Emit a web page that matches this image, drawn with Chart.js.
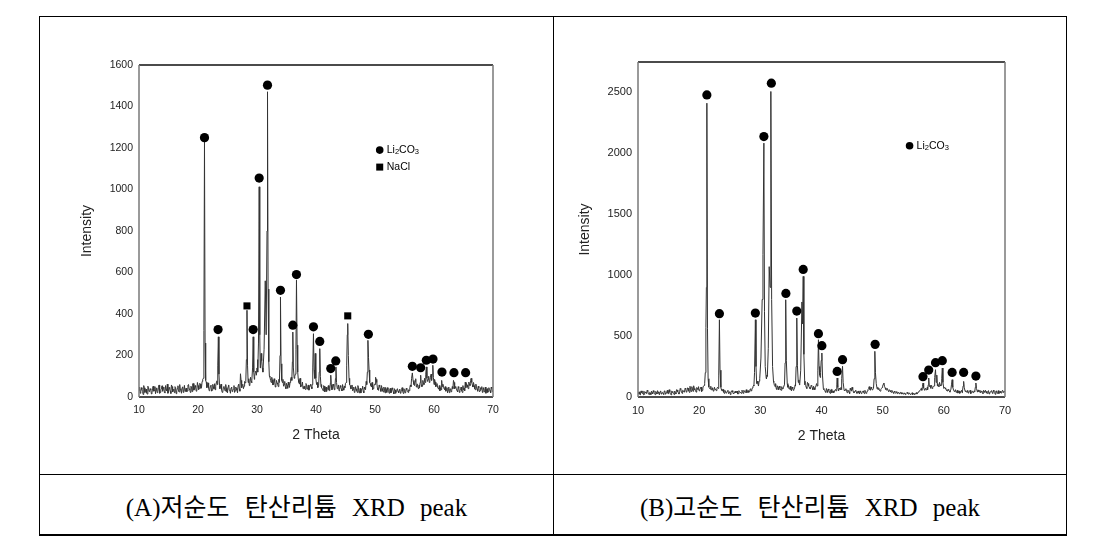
<!DOCTYPE html>
<html>
<head>
<meta charset="utf-8">
<script src="https://cdn.jsdelivr.net/npm/chart.js@4.4.1/dist/chart.umd.min.js"></script>
<style>
body { margin: 0; background: #fff; width: 1119px; height: 546px; position: relative; overflow: hidden; }
.rule { position: absolute; background: #000; }
canvas { position: absolute; }
.caption {
    position: absolute; top: 475px; height: 59px;
    display: flex; align-items: center; justify-content: center;
    font-family: "Liberation Serif", "Noto Sans CJK KR", serif;
    font-size: 25px; color: #000; word-spacing: 9px; white-space: pre;
}
</style>
</head>
<body>
<!-- table lines -->
<div class="rule" style="left:39px;top:16px;width:1028px;height:1px"></div>
<div class="rule" style="left:39px;top:534px;width:1028px;height:2px"></div>
<div class="rule" style="left:39px;top:16px;width:1px;height:520px"></div>
<div class="rule" style="left:1066px;top:16px;width:1px;height:520px"></div>
<div class="rule" style="left:553px;top:16px;width:1px;height:520px"></div>
<div class="rule" style="left:39px;top:474px;width:1028px;height:1px"></div>

<canvas id="chartA" width="513" height="457" style="left:40px;top:17px"></canvas>
<canvas id="chartB" width="512" height="457" style="left:554px;top:17px"></canvas>

<div class="caption" style="left:40px;width:513px">(A)저순도 탄산리튬 XRD peak</div>
<div class="caption" style="left:554px;width:512px">(B)고순도 탄산리튬 XRD peak</div>

<script>
// background readings: one set at 10.0, 10.2 ... 70.0 and one in between at 10.1, 10.3 ... 69.9
var SCAN_START = 10;
var SCAN_MID_START = 10.1;
var SCAN_STEP = 0.2;

// (A) low purity sample - background counts
var backgroundA = [
    32, 18, 45, 27, 55, 22, 38, 14, 47, 29,
    35, 20, 52, 31, 16, 44, 26, 58, 23, 39,
    28, 48, 19, 36, 62, 25, 41, 17, 50, 33,
    21, 46, 30, 54, 24, 37, 18, 49, 34, 27,
    43, 29, 60, 35, 52, 26, 65, 38, 47, 31,
    55, 40, 62, 48, 85, 300, 260, 72, 50, 44,
    38, 57, 33, 49, 64, 52, 78, 290, 60, 46,
    35, 24, 51, 29, 42, 20, 58, 31, 44, 26,
    37, 22, 48, 33, 56, 39, 112, 45, 61, 52,
    68, 180, 150, 88, 62, 79, 140, 120, 98, 125,
    140, 260, 300, 150, 175, 120, 230, 560, 300, 1471,
    170, 95, 70, 82, 60, 75, 55, 68, 50, 70,
    480, 80, 85, 60, 48, 66, 42, 58, 70, 95,
    170, 140, 100, 230, 250, 85, 62, 48, 57, 40,
    52, 36, 60, 45, 33, 55, 48, 140, 130, 210,
    90, 70, 52, 120, 100, 45, 30, 52, 38, 27,
    46, 33, 70, 60, 40, 55, 45, 145, 40, 58,
    36, 47, 29, 44, 52, 66, 150, 354, 90, 55,
    42, 30, 48, 25, 39, 22, 44, 31, 19, 40,
    28, 47, 35, 60, 273, 130, 65, 48, 36, 52,
    60, 85, 45, 32, 50, 27, 41, 24, 38, 46,
    22, 35, 18, 42, 29, 37, 15, 33, 26, 40,
    20, 38, 24, 45, 17, 32, 28, 36, 22, 30,
    58, 90, 116, 60, 75, 48, 62, 40, 70, 60,
    55, 68, 90, 110, 90, 85, 70, 95, 80, 95,
    60, 72, 55, 48, 38, 30, 35, 50, 52, 36,
    28, 45, 33, 21, 40, 30, 40, 70, 50, 38,
    25, 42, 30, 48, 22, 35, 30, 45, 58, 40,
    62, 80, 70, 48, 55, 35, 50, 28, 44, 30,
    38, 22, 45, 31, 18, 40, 27, 35, 20, 42,
    30
];
var backgroundMidA = [
    48, 25, 36, 12, 44, 30, 20, 52, 26, 40,
    15, 42, 28, 50, 33, 21, 47, 18, 35, 54,
    40, 22, 55, 30, 18, 46, 28, 58, 24, 38,
    50, 16, 42, 27, 60, 32, 45, 22, 56, 38,
    26, 58, 40, 22, 48, 64, 33, 55, 28, 70,
    36, 66, 42, 75, 90, 1000, 80, 45, 68, 30,
    52, 28, 61, 40, 35, 70, 95, 120, 40, 62,
    22, 46, 38, 60, 25, 50, 34, 18, 48, 35,
    55, 30, 42, 20, 62, 28, 80, 58, 40, 75,
    75, 418, 70, 55, 95, 68, 200, 100, 120, 105,
    180, 500, 200, 210, 140, 300, 400, 600, 900, 300,
    100, 80, 95, 58, 88, 48, 80, 62, 85, 200,
    300, 70, 52, 75, 40, 55, 72, 46, 88, 80,
    200, 90, 110, 400, 120, 70, 90, 55, 72, 50,
    40, 65, 38, 58, 45, 62, 40, 200, 110, 150,
    60, 45, 100, 150, 60, 38, 55, 25, 48, 40,
    55, 30, 105, 35, 62, 35, 90, 70, 45, 30,
    55, 38, 60, 33, 45, 70, 300, 150, 60, 40,
    58, 35, 22, 50, 30, 55, 20, 42, 33, 52,
    20, 40, 75, 120, 190, 70, 55, 70, 40, 62,
    95, 70, 35, 58, 40, 55, 30, 48, 20, 36,
    45, 28, 38, 20, 44, 25, 40, 18, 35, 28,
    32, 18, 36, 28, 40, 20, 42, 25, 35, 45,
    50, 110, 80, 55, 88, 60, 42, 58, 90, 55,
    80, 60, 70, 145, 75, 100, 78, 110, 110, 95,
    85, 50, 65, 42, 55, 45, 80, 62, 40, 50,
    35, 20, 48, 36, 25, 50, 80, 40, 45, 30,
    50, 22, 40, 30, 55, 42, 72, 65, 48, 72,
    55, 90, 58, 70, 40, 62, 38, 52, 25, 45,
    50, 32, 25, 48, 35, 22, 45, 30, 48, 26
];

// (A) peak profiles [2theta, counts], these replace the background inside their range
var peaksA = [
    [[20.9, 90], [21.0, 320], [21.1, 1235], [21.2, 260], [21.3, 80]],
    [[23.25, 60], [23.35, 150], [23.45, 290], [23.55, 110], [23.65, 55]],
    [[28.1, 75], [28.2, 180], [28.3, 418], [28.4, 150], [28.5, 70]],
    [[29.15, 80], [29.25, 140], [29.35, 290], [29.45, 120], [29.55, 85]],
    [[30.15, 120], [30.25, 260], [30.37, 1013], [30.47, 300], [30.55, 140]],
    [[31.0, 120], [31.2, 230], [31.4, 560], [31.55, 300], [31.7, 800], [31.78, 1471], [31.88, 520], [32.0, 170], [32.1, 100]],
    [[33.8, 70], [33.9, 200], [33.98, 482], [34.08, 160], [34.2, 80]],
    [[35.9, 80], [36.0, 170], [36.07, 313], [36.17, 140], [36.3, 90]],
    [[36.5, 110], [36.6, 230], [36.69, 563], [36.8, 250], [36.9, 120]],
    [[39.35, 60], [39.45, 140], [39.57, 305], [39.67, 130], [39.77, 90], [39.87, 210], [39.97, 90], [40.1, 60]],
    [[40.45, 55], [40.55, 120], [40.64, 233], [40.74, 100], [40.85, 50]],
    [[42.35, 40], [42.45, 70], [42.5, 105], [42.6, 60], [42.7, 35]],
    [[43.2, 45], [43.3, 90], [43.38, 145], [43.48, 70], [43.6, 40]],
    [[45.1, 70], [45.2, 150], [45.3, 300], [45.38, 354], [45.48, 200], [45.6, 90], [45.7, 60]],
    [[48.6, 60], [48.7, 120], [48.8, 273], [48.9, 190], [49.0, 130], [49.1, 70]],
    [[56.1, 50], [56.2, 90], [56.33, 116], [56.45, 80], [56.6, 60]],
    [[57.55, 45], [57.65, 70], [57.74, 105], [57.84, 60], [57.95, 50]],
    [[58.5, 70], [58.6, 110], [58.7, 145], [58.8, 90], [58.9, 75]],
    [[59.6, 80], [59.7, 110], [59.8, 153], [59.9, 95], [60.0, 60]],
    [[61.2, 35], [61.3, 80], [61.4, 50]],
    [[63.2, 40], [63.3, 80], [63.4, 70], [63.5, 40]],
    [[65.2, 30], [65.3, 72], [65.4, 45]]
];

// (A) phase markers
var li2co3MarksA = [
    [21.1, 1250], [23.4, 325], [29.35, 325], [30.37, 1055], [31.78, 1503], [33.98, 514],
    [36.07, 346], [36.69, 590], [39.57, 338], [40.64, 268], [42.5, 137], [43.35, 174],
    [48.88, 302], [56.33, 148], [57.74, 141], [58.7, 177], [59.83, 183], [61.35, 120],
    [63.38, 117], [65.36, 117]
];
var naclMarksA = [[28.3, 439], [45.38, 391]];

// (B) high purity sample
var backgroundB = [
    25, 42, 18, 36, 50, 22, 39, 28, 46, 20,
    34, 48, 26, 41, 19, 37, 52, 30, 44, 24,
    38, 21, 47, 33, 55, 27, 40, 18, 45, 31,
    49, 26, 58, 35, 43, 62, 30, 51, 39, 66,
    44, 72, 38, 60, 85, 47, 70, 55, 78, 62,
    50, 68, 45, 74, 95, 200, 900, 150, 82, 65,
    58, 76, 49, 63, 52, 80, 180, 220, 66, 48,
    40, 55, 32, 47, 28, 44, 36, 52, 25, 41,
    33, 49, 27, 45, 38, 56, 30, 48, 42, 35,
    52, 44, 68, 58, 85, 200, 634, 110, 110, 130,
    320, 800, 1170, 2084, 250, 150, 400, 1070, 900, 2508,
    250, 120, 85, 70, 92, 60, 75, 55, 68, 80,
    280, 300, 110, 95, 70, 60, 82, 55, 75, 250,
    648, 120, 100, 220, 780, 990, 130, 95, 70, 110,
    80, 65, 90, 60, 75, 85, 110, 220, 250, 160,
    300, 180, 60, 45, 70, 38, 55, 30, 62, 42,
    35, 58, 50, 156, 50, 65, 80, 252, 120, 50,
    68, 35, 52, 28, 60, 80, 45, 38, 55, 30,
    48, 25, 42, 33, 50, 28, 45, 36, 60, 85,
    55, 70, 62, 150, 200, 110, 80, 60, 48, 70,
    90, 115, 75, 58, 66, 45, 52, 38, 47, 30,
    42, 35, 28, 40, 25, 36, 30, 22, 34, 27,
    38, 24, 31, 20, 35, 26, 18, 30, 24, 40,
    48, 62, 55, 115, 55, 72, 60, 100, 85, 95,
    95, 80, 90, 224, 180, 110, 85, 100, 150, 238,
    70, 75, 60, 48, 55, 40, 100, 80, 55, 50,
    38, 55, 42, 30, 48, 35, 90, 75, 52, 40,
    32, 48, 28, 45, 36, 50, 80, 70, 58, 42,
    35, 50, 28, 46, 55, 32, 48, 25, 40, 52,
    30, 45, 22, 50, 36, 28, 47, 33, 55, 38,
    42
];
var backgroundMidB = [
    40, 22, 50, 30, 18, 45, 33, 55, 24, 38,
    20, 36, 52, 28, 46, 25, 40, 18, 50, 35,
    28, 50, 22, 44, 30, 60, 25, 48, 36, 20,
    35, 60, 42, 24, 70, 38, 55, 45, 72, 40,
    75, 50, 88, 45, 66, 92, 58, 40, 70, 85,
    60, 82, 55, 90, 110, 570, 1500, 120, 70, 88,
    62, 48, 80, 58, 70, 70, 600, 100, 55, 62,
    30, 48, 38, 55, 35, 20, 50, 40, 33, 48,
    42, 25, 52, 36, 30, 45, 55, 38, 60, 46,
    38, 60, 50, 75, 95, 400, 200, 130, 90, 150,
    320, 800, 1500, 500, 200, 180, 400, 1000, 1800, 600,
    150, 95, 110, 62, 78, 90, 58, 85, 66, 98,
    500, 200, 80, 65, 88, 50, 70, 62, 100, 400,
    200, 140, 150, 500, 600, 500, 100, 80, 120, 90,
    70, 95, 75, 88, 60, 92, 90, 470, 180, 250,
    250, 70, 55, 38, 52, 66, 40, 58, 35, 50,
    48, 62, 100, 70, 72, 58, 200, 150, 55, 62,
    45, 58, 40, 72, 48, 62, 35, 50, 40, 45,
    35, 50, 28, 45, 38, 55, 30, 50, 70, 62,
    80, 58, 70, 300, 130, 65, 70, 52, 62, 78,
    105, 88, 62, 72, 50, 60, 42, 55, 36, 48,
    30, 45, 35, 28, 38, 24, 35, 28, 20, 33,
    28, 35, 22, 30, 20, 32, 25, 36, 30, 45,
    55, 70, 85, 75, 65, 58, 80, 156, 90, 85,
    70, 88, 160, 120, 90, 95, 120, 90, 200, 120,
    80, 65, 52, 62, 48, 58, 142, 70, 45, 60,
    45, 32, 50, 40, 55, 90, 100, 45, 40, 55,
    40, 55, 35, 50, 42, 80, 90, 40, 45, 55,
    42, 35, 55, 38, 45, 30, 52, 38, 48, 35,
    55, 38, 48, 30, 52, 40, 35, 48, 42, 50
];

var peaksB = [
    [[20.9, 110], [21.0, 200], [21.1, 570], [21.18, 900], [21.26, 2412], [21.36, 560], [21.46, 150], [21.56, 90]],
    [[23.1, 70], [23.2, 180], [23.31, 634], [23.41, 220], [23.55, 80]],
    [[28.95, 90], [29.05, 200], [29.19, 634], [29.29, 250], [29.4, 110]],
    [[29.9, 150], [30.1, 320], [30.3, 800], [30.43, 1170], [30.58, 2084], [30.68, 700], [30.8, 250], [30.95, 160]],
    [[31.15, 170], [31.3, 400], [31.45, 1070], [31.6, 900], [31.72, 2508], [31.85, 800], [32.0, 250], [32.15, 130]],
    [[33.95, 100], [34.05, 280], [34.15, 798], [34.25, 300], [34.4, 110]],
    [[35.75, 90], [35.85, 250], [35.96, 648], [36.06, 260], [36.2, 120]],
    [[36.45, 110], [36.6, 220], [36.8, 780], [36.9, 600], [37.01, 990], [37.12, 350], [37.25, 130]],
    [[39.3, 90], [39.4, 220], [39.5, 470], [39.6, 250], [39.7, 180]],
    [[39.85, 200], [39.95, 300], [40.06, 361], [40.16, 180], [40.3, 70]],
    [[42.4, 50], [42.5, 100], [42.56, 156], [42.66, 80], [42.8, 50]],
    [[43.25, 60], [43.35, 150], [43.44, 252], [43.54, 120], [43.7, 55]],
    [[48.5, 70], [48.6, 150], [48.72, 375], [48.82, 200], [48.95, 110], [49.1, 65]],
    [[56.4, 55], [56.5, 85], [56.6, 115], [56.7, 75], [56.85, 55]],
    [[57.35, 60], [57.45, 100], [57.53, 156], [57.63, 85], [57.75, 95], [57.85, 70]],
    [[58.4, 90], [58.5, 160], [58.64, 224], [58.74, 120], [58.85, 180], [58.95, 90]],
    [[59.55, 100], [59.65, 150], [59.75, 238], [59.85, 120], [60.0, 70]],
    [[61.15, 60], [61.25, 100], [61.36, 142], [61.46, 80], [61.6, 55]],
    [[63.05, 50], [63.15, 90], [63.24, 128], [63.34, 75], [63.5, 45]],
    [[65.05, 45], [65.15, 80], [65.24, 115], [65.34, 70], [65.5, 40]]
];

var li2co3MarksB = [
    [21.26, 2480], [23.31, 684], [29.19, 689], [30.58, 2138], [31.8, 2576], [34.18, 850],
    [35.96, 705], [37.01, 1047], [39.5, 520], [40.06, 421], [42.56, 210], [43.44, 306],
    [48.77, 432], [56.59, 167], [57.53, 221], [58.64, 282], [59.75, 298], [61.36, 202],
    [63.24, 202], [65.24, 172]
];

// tick labels
var thetaTicks = [10, 20, 30, 40, 50, 60, 70];
var countTicksA = [0, 200, 400, 600, 800, 1000, 1200, 1400, 1600];
var countTicksB = [0, 500, 1000, 1500, 2000, 2500];
var countMaxA = 1600;
var countMaxB = 2750;

var AXIS_FONT = '"Liberation Sans", Arial, sans-serif';

// merge background readings + peaks into one sorted scan
function buildScan(background, backgroundMid, peaks) {
    var pts = [];
    function inPeak(x) {
        return peaks.some(function (p) {
            return x >= p[0][0] && x <= p[p.length - 1][0];
        });
    }
    function addReadings(list, start) {
        list.forEach(function (v, i) {
            var x = Math.round((start + i * SCAN_STEP) * 10) / 10;
            if (!inPeak(x)) pts.push({x: x, y: v});
        });
    }
    addReadings(background, SCAN_START);
    addReadings(backgroundMid, SCAN_MID_START);
    peaks.forEach(function (p) {
        p.forEach(function (q) { pts.push({x: q[0], y: q[1]}); });
    });
    pts.sort(function (a, b) { return a.x - b.x; });
    return pts;
}

function toPoints(list) {
    return list.map(function (p) { return {x: p[0], y: p[1]}; });
}

// draws Li2CO3 etc with the digits as subscripts
function drawFormula(ctx, text, x, y, size) {
    for (var i = 0; i < text.length; i++) {
        var ch = text[i];
        var sub = /[0-9]/.test(ch);
        ctx.font = (sub ? size * 0.72 : size) + 'px ' + AXIS_FONT;
        ctx.fillText(ch, x, sub ? y + size * 0.22 : y);
        x += ctx.measureText(ch).width;
    }
}

// box round the plot: top/bottom dark, sides grey like the original
var plotFrame = {
    id: 'plotFrame',
    afterDraw: function (chart) {
        var a = chart.chartArea, ctx = chart.ctx;
        ctx.save();
        ctx.lineWidth = 1.5;
        ctx.strokeStyle = '#111';
        ctx.beginPath();
        ctx.moveTo(a.left, a.top); ctx.lineTo(a.right, a.top);
        ctx.moveTo(a.left, a.bottom); ctx.lineTo(a.right, a.bottom);
        ctx.stroke();
        ctx.strokeStyle = '#7a7a7a';
        ctx.beginPath();
        ctx.moveTo(a.left, a.top); ctx.lineTo(a.left, a.bottom);
        ctx.moveTo(a.right, a.top); ctx.lineTo(a.right, a.bottom);
        ctx.stroke();
        ctx.restore();
    }
};

// legend sitting inside the plot, anchored in data units
var insetLegend = {
    id: 'insetLegend',
    afterDatasetsDraw: function (chart, args, opts) {
        var ctx = chart.ctx;
        var xs = chart.scales.x, ys = chart.scales.y;
        ctx.save();
        ctx.fillStyle = '#000';
        ctx.textBaseline = 'middle';
        (opts.items || []).forEach(function (item) {
            var px = xs.getPixelForValue(item.at[0]);
            var py = ys.getPixelForValue(item.at[1]);
            ctx.beginPath();
            if (item.shape === 'rect') {
                ctx.rect(px - 3.5, py - 3.5, 7, 7);
            } else {
                ctx.arc(px, py, 3.8, 0, Math.PI * 2);
            }
            ctx.fill();
            drawFormula(ctx, item.label, px + 7, py, 10.5);
        });
        ctx.restore();
    }
};

function fixedTicks(values) {
    return function (scale) {
        scale.ticks = values.map(function (v) { return {value: v}; });
    };
}

function makeXrdChart(canvasId, cfg) {
    var datasets = [{
        label: 'scan',
        data: cfg.scan,
        showLine: true,
        borderColor: '#333',
        borderWidth: 1,
        pointRadius: 0,
        tension: 0,
        order: 2
    }, {
        label: 'Li2CO3',
        data: cfg.circles,
        pointStyle: 'circle',
        pointRadius: 4.6,
        backgroundColor: '#000',
        borderWidth: 0,
        order: 1
    }];
    if (cfg.squares) {
        datasets.push({
            label: 'NaCl',
            data: cfg.squares,
            pointStyle: 'rect',
            pointRadius: 5,
            backgroundColor: '#000',
            borderWidth: 0,
            order: 1
        });
    }

    var tickFont = {family: AXIS_FONT, size: cfg.tickSize};
    var titleFont = {family: AXIS_FONT, size: 14};
    var plain = function (v) { return String(v); };

    return new Chart(document.getElementById(canvasId), {
        type: 'scatter',
        data: {datasets: datasets},
        plugins: [plotFrame, insetLegend],
        options: {
            responsive: false,
            animation: false,
            devicePixelRatio: 1,
            layout: {padding: cfg.padding},
            plugins: {
                legend: {display: false},
                tooltip: {enabled: false},
                insetLegend: {items: cfg.legend}
            },
            scales: {
                x: {
                    type: 'linear',
                    min: thetaTicks[0],
                    max: thetaTicks[thetaTicks.length - 1],
                    grid: {display: false, drawTicks: false},
                    border: {display: false},
                    afterBuildTicks: fixedTicks(thetaTicks),
                    ticks: {padding: 7, color: '#222', font: tickFont, callback: plain},
                    title: {display: true, text: '2 Theta', color: '#222', font: titleFont},
                    afterFit: function (s) { s.height = cfg.xHeight; }
                },
                y: {
                    min: 0,
                    max: cfg.yMax,
                    grid: {display: false, drawTicks: false},
                    border: {display: false},
                    afterBuildTicks: fixedTicks(cfg.yTicks),
                    ticks: {padding: 6, color: '#222', font: tickFont, callback: plain},
                    title: {display: true, text: 'Intensity', color: '#222', font: titleFont},
                    afterFit: function (s) { s.width = cfg.yWidth; }
                }
            }
        }
    });
}

makeXrdChart('chartA', {
    scan: buildScan(backgroundA, backgroundMidA, peaksA),
    circles: toPoints(li2co3MarksA),
    squares: toPoints(naclMarksA),
    yTicks: countTicksA,
    yMax: countMaxA,
    padding: {left: 35, right: 60, top: 48, bottom: 26},
    yWidth: 64,
    xHeight: 51,
    tickSize: 10.5,
    legend: [
        {shape: 'circle', at: [50.8, 1190], label: 'Li2CO3'},
        {shape: 'rect', at: [50.8, 1108], label: 'NaCl'}
    ]
});

makeXrdChart('chartB', {
    scan: buildScan(backgroundB, backgroundMidB, peaksB),
    circles: toPoints(li2co3MarksB),
    yTicks: countTicksB,
    yMax: countMaxB,
    padding: {left: 19, right: 61, top: 45, bottom: 25},
    yWidth: 65,
    xHeight: 52,
    tickSize: 11,
    legend: [
        {shape: 'circle', at: [54.4, 2063], label: 'Li2CO3'}
    ]
});
</script>
</body>
</html>
